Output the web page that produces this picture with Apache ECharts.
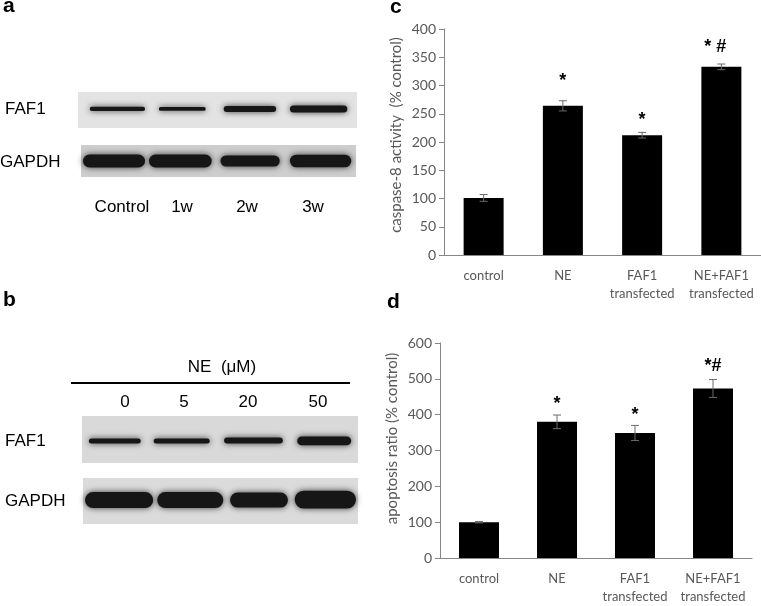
<!DOCTYPE html>
<html><head><meta charset="utf-8">
<script src="https://cdn.jsdelivr.net/npm/echarts@6/dist/echarts.min.js"></script>
<style>html,body{margin:0;padding:0;background:#fff}#c{width:761px;height:606px}</style>
</head><body><div id="c"></div>
<script>
// ---------- data ----------
const groups = ['control', 'NE', 'FAF1\ntransfected', 'NE+FAF1\ntransfected'];
const caspase8 = [101, 264, 212, 333];
const caspase8Err = [6, 9, 5, 5];
const caspase8Sig = ['', '*', '*', '* #'];
const caspase8SigAt = [0, 308, 239, 368];
const caspaseTicks = [0, 400, 50];
const apoptosis = [100, 380, 349, 473];
const apoptosisErr = [2, 19, 21, 25];
const apoptosisSig = ['', '*', '*', '*#'];
const apoptosisSigAt = [0, 429, 399, 535];
const apoptosisTicks = [0, 600, 100];

const lanesA = ['Control', '1w', '2w', '3w'];
const lanesB = ['0', '5', '20', '50'];
// blot bands: [laneStart, laneEnd, centre (0-1), thickness (0-1)]
const bandsA_FAF1 = [[0.14, 0.99, 0.53, 0.17], [1.13, 1.86, 0.53, 0.16], [2.06, 2.87, 0.53, 0.22], [3.01, 3.89, 0.53, 0.25]];
const bandsA_GAPDH = [[0.0, 0.96, 0.5, 0.47], [0.96, 1.93, 0.5, 0.47], [2.0, 2.92, 0.5, 0.41], [3.01, 3.96, 0.5, 0.46]];
const bandsB_FAF1 = [[0.07, 0.88, 0.47, 0.15], [1.01, 1.88, 0.47, 0.15], [2.03, 2.94, 0.48, 0.17], [3.09, 3.93, 0.47, 0.23]];
const bandsB_GAPDH = [[0.0, 1.05, 0.52, 0.39], [1.05, 2.07, 0.52, 0.39], [2.11, 3.01, 0.52, 0.37], [3.05, 4.0, 0.53, 0.43]];

// ---------- helpers ----------
const FONT = 'Lato, "Open Sans", sans-serif';
const AX = '#878787', TXT = '#595959';

function barAxes(gi, ticks, title, pad) {
  return {
    x: {
      type: 'category', gridIndex: gi, data: groups,
      axisLine: { lineStyle: { color: AX, width: 1 } },
      axisTick: { show: false },
      axisLabel: { color: TXT, fontFamily: FONT, fontSize: 13, margin: 12, lineHeight: 18, interval: 0 }
    },
    y: {
      type: 'value', gridIndex: gi, min: ticks[0], max: ticks[1], interval: ticks[2],
      splitLine: { show: false },
      axisLine: { show: true, lineStyle: { color: AX, width: 1 } },
      axisTick: { show: true, length: 5, lineStyle: { color: AX } },
      axisLabel: { color: TXT, fontFamily: FONT, fontSize: 14, margin: 8 },
      name: title, nameLocation: 'middle', nameGap: 40,
      nameTextStyle: { color: TXT, fontFamily: FONT, fontSize: 15, padding: pad }
    }
  };
}

function errItem(params, api) {
  const i = api.value(0), v = api.value(1), e = api.value(2);
  const t = api.coord([i, v + e]), b = api.coord([i, v - e]);
  const w = 4, st = { stroke: '#6b6b6b', lineWidth: 1 };
  return { type: 'group', children: [
    { type: 'line', shape: { x1: t[0], y1: t[1], x2: b[0], y2: b[1] }, style: st },
    { type: 'line', shape: { x1: t[0] - w, y1: t[1], x2: t[0] + w, y2: t[1] }, style: st },
    { type: 'line', shape: { x1: b[0] - w, y1: b[1], x2: b[0] + w, y2: b[1] }, style: st }
  ]};
}
function sigItem(params, api) {
  const p = api.coord([api.value(0), api.value(1)]);
  const txt = api.value(2);
  return { type: 'text', x: p[0] + (txt.length > 2 ? -6 : 0), y: p[1], style: {
    text: txt, fill: '#000', font: 'bold 18px Arial, sans-serif', align: 'center', verticalAlign: 'middle' } };
}
function bandItem(params, api) {
  const a = api.coord([api.value(0), api.value(2)]);
  const b = api.coord([api.value(1), api.value(2)]);
  const h = api.size([0, api.value(3)])[1];
  return { type: 'rect', shape: { x: a[0] + 2, y: a[1] - h / 2 + 1, width: b[0] - a[0] - 4, height: h - 2, r: h / 2 },
    style: { fill: '#161616', shadowBlur: 6, shadowColor: 'rgba(0,0,0,0.75)' } };
}

const c = barAxes(0, caspaseTicks, 'caspase-8 activity  (% control)', [0, 0, 0, 14]);
const d = barAxes(1, apoptosisTicks, 'apoptosis ratio (% control)', [0, 0, 0, 24]);

const blotGrids = [
  { left: 78, top: 92, width: 279, height: 36, bg: '#e3e3e3', bands: bandsA_FAF1 },
  { left: 81, top: 145, width: 275, height: 32, bg: '#cdcdcd', bands: bandsA_GAPDH },
  { left: 82, top: 416, width: 276, height: 47, bg: '#d9d9d9', bands: bandsB_FAF1 },
  { left: 83, top: 478, width: 275, height: 46, bg: '#dbdbdb', bands: bandsB_GAPDH }
];

const grids = [
  { left: 444, top: 29, width: 317, height: 226 },
  { left: 440, top: 343, width: 312, height: 221 }
];
const xAxes = [c.x, d.x], yAxes = [c.y, d.y];
const series = [
  { type: 'bar', xAxisIndex: 0, yAxisIndex: 0, data: caspase8, barWidth: 40, itemStyle: { color: '#000' }, silent: true },
  { type: 'custom', xAxisIndex: 0, yAxisIndex: 0, renderItem: errItem, data: caspase8.map((v, i) => [i, v, caspase8Err[i]]), z: 5 },
  { type: 'custom', xAxisIndex: 0, yAxisIndex: 0, renderItem: sigItem, clip: false,
    data: caspase8Sig.map((s, i) => [i, caspase8SigAt[i], s]).filter(r => r[2]) },
  { type: 'bar', xAxisIndex: 1, yAxisIndex: 1, data: apoptosis, barWidth: 40, itemStyle: { color: '#000' }, silent: true },
  { type: 'custom', xAxisIndex: 1, yAxisIndex: 1, renderItem: errItem, data: apoptosis.map((v, i) => [i, v, apoptosisErr[i]]), z: 5 },
  { type: 'custom', xAxisIndex: 1, yAxisIndex: 1, renderItem: sigItem, clip: false,
    data: apoptosisSig.map((s, i) => [i, apoptosisSigAt[i], s]).filter(r => r[2]) }
];
blotGrids.forEach((g) => {
  const gi = grids.length;
  grids.push({ left: g.left, top: g.top, width: g.width, height: g.height, show: true, backgroundColor: g.bg, borderWidth: 0 });
  xAxes.push({ type: 'value', gridIndex: gi, min: 0, max: 4, show: false });
  yAxes.push({ type: 'value', gridIndex: gi, min: 0, max: 1, show: false });
  series.push({ type: 'custom', xAxisIndex: gi, yAxisIndex: gi, renderItem: bandItem, data: g.bands });
});

function T(text, x, y, opts) {
  return { type: 'text', x: x, y: y, style: Object.assign({ text: text, fill: '#000',
    font: '16px Arial, "Liberation Sans", sans-serif', align: 'left', verticalAlign: 'middle' }, opts || {}) };
}
const P = 'bold 21px Arial, "Liberation Sans", sans-serif';
const G = '17px Arial, "Liberation Sans", sans-serif';
const lanePosA = [122, 182, 247, 313], lanePosB = [125, 184, 248, 318];
const graphic = [
  T('a', 3, 6, { font: P }), T('b', 3, 300, { font: P }),
  T('c', 390, 7, { font: P }), T('d', 387, 302, { font: P }),
  T('FAF1', 5, 109, { font: G }), T('GAPDH', 0, 162, { font: G }),
  T('FAF1', 5, 441, { font: G }), T('GAPDH', 5, 501, { font: G }),
  T('NE  (μM)', 222, 367, { align: 'center', font: G }),
  { type: 'line', shape: { x1: 71, y1: 383, x2: 350, y2: 383 }, style: { stroke: '#000', lineWidth: 2 } }
];
lanesA.forEach((s, i) => graphic.push(T(s, lanePosA[i], 207, { align: 'center', font: G })));
lanesB.forEach((s, i) => graphic.push(T(s, lanePosB[i], 402, { align: 'center', font: G })));

const chart = echarts.init(document.getElementById('c'), null, { renderer: 'canvas' });
chart.setOption({ animation: false, backgroundColor: '#fff', grid: grids, xAxis: xAxes, yAxis: yAxes, series: series, graphic: graphic });
</script></body></html>
